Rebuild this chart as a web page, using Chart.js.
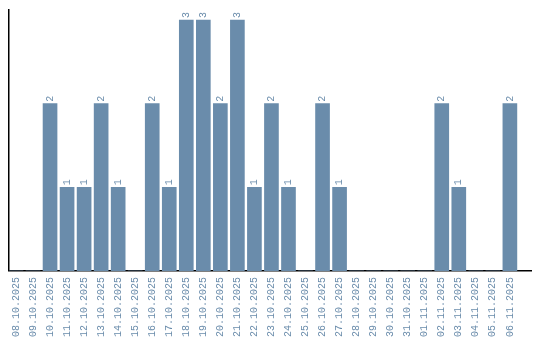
<!DOCTYPE html>
<html>
<head>
<meta charset="utf-8">
<script src="https://cdn.jsdelivr.net/npm/chart.js@4/dist/chart.umd.min.js"></script>
<style>
html,body{margin:0;padding:0;background:#fff;}
#wrap{width:540px;height:340px;position:relative;}
</style>
</head>
<body>
<div id="wrap"><canvas id="c" width="540" height="340"></canvas></div>
<script>
const dates = ["08.10.2025","09.10.2025","10.10.2025","11.10.2025","12.10.2025","13.10.2025","14.10.2025","15.10.2025","16.10.2025","17.10.2025","18.10.2025","19.10.2025","20.10.2025","21.10.2025","22.10.2025","23.10.2025","24.10.2025","25.10.2025","26.10.2025","27.10.2025","28.10.2025","29.10.2025","30.10.2025","31.10.2025","01.11.2025","02.11.2025","03.11.2025","04.11.2025","05.11.2025","06.11.2025"];
const counts = [0,0,2,1,1,2,1,0,2,1,3,3,2,3,1,2,1,0,2,1,0,0,0,0,0,2,1,0,0,2];

const BLUE = 'rgb(106,140,171)';
const LABEL = 'rgb(106,140,171)';
const FONT = '"Liberation Mono", monospace';

const valueLabels = {
  id: 'valueLabels',
  afterDatasetsDraw(chart) {
    const ctx = chart.ctx;
    const meta = chart.getDatasetMeta(0);
    ctx.save();
    ctx.fillStyle = LABEL;
    ctx.font = '10px ' + FONT;
    ctx.textAlign = 'left';
    ctx.textBaseline = 'middle';
    meta.data.forEach((el, i) => {
      const v = counts[i];
      if (!v) return;
      ctx.save();
      ctx.translate(el.x, el.y - 2);
      ctx.rotate(-Math.PI / 2);
      ctx.fillText(String(v), 0, 0);
      ctx.restore();
    });
    ctx.restore();
  }
};

new Chart(document.getElementById('c'), {
  type: 'bar',
  data: {
    datasets: [{
      data: dates.map((d, i) => ({x: i, y: counts[i]})),
      backgroundColor: BLUE,
      borderWidth: 0,
      barThickness: 14
    }]
  },
  options: {
    responsive: false,
    animation: false,
    layout: {padding: {left: 9, top: 10, right: 9, bottom: -3}},
    plugins: {legend: {display: false}, tooltip: {enabled: false}},
    scales: {
      x: {
        type: 'linear',
        offset: false,
        min: -0.41,
        max: 30.24,
        afterFit: (s) => { s.paddingLeft = 0; s.paddingRight = 0; },
        grid: {display: false, drawTicks: false, offset: false},
        border: {display: true, color: '#000', width: 1.5},
        ticks: {
          stepSize: 1,
          includeBounds: false,
          autoSkip: false,
          maxRotation: 90,
          minRotation: 90,
          padding: 6,
          color: LABEL,
          font: {family: FONT, size: 10},
          callback: (v) => (Number.isInteger(v) && dates[v] !== undefined) ? dates[v] : ''
        }
      },
      y: {
        min: 0,
        max: 3.12,
        grid: {display: false, drawTicks: false},
        border: {display: true, color: '#000', width: 1.5},
        ticks: {display: false}
      }
    }
  },
  plugins: [valueLabels]
});
</script>
</body>
</html>
